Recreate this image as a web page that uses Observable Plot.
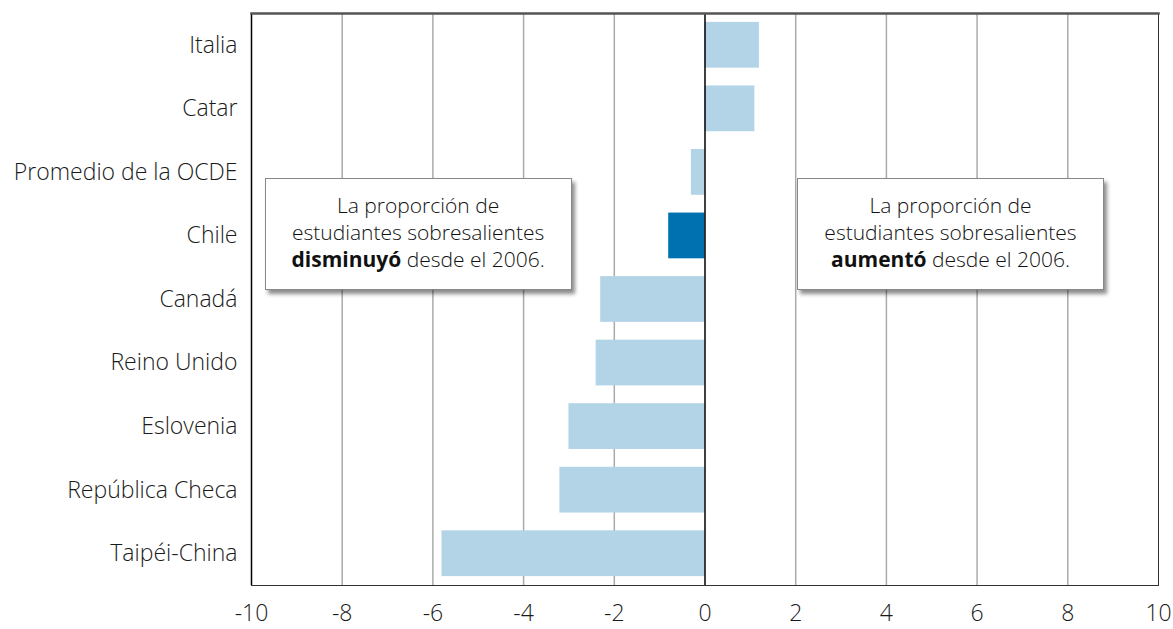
<!DOCTYPE html>
<html><head><meta charset="utf-8">
<script src="https://cdn.jsdelivr.net/npm/d3@7"></script>
<script src="https://cdn.jsdelivr.net/npm/@observablehq/plot@0.6"></script>
<style>
body{margin:0;background:#fff;font-family:"Open Sans",sans-serif;}
#wrap{position:relative;width:1173px;height:629px;}
.note{position:absolute;background:#fff;border:1px solid #888;box-shadow:3px 4px 4px rgba(0,0,0,0.45);
 text-align:center;font-size:21px;line-height:27px;color:#111;box-sizing:border-box;padding-top:13px;font-family:"Open Sans",sans-serif;font-weight:300;}
.note b{font-weight:700;}
svg text{font-weight:300;}
</style></head><body><div id="wrap"></div>
<script>
const countries = ["Italia","Catar","Promedio de la OCDE","Chile","Canadá","Reino Unido","Eslovenia","República Checa","Taipéi-China"];
const values = [1.2, 1.1, -0.3, -0.8, -2.3, -2.4, -3.0, -3.2, -5.8];
const highlight = ["Chile"];
const xTicks = [-10,-8,-6,-4,-2,0,2,4,6,8,10];
const data = countries.map((c,i)=>({country:c,value:values[i]}));

const plot = Plot.plot({
  width:1173, height:629,
  marginTop:13, marginBottom:44, marginLeft:251, marginRight:15,
  style:{fontFamily:"Open Sans, sans-serif", fontSize:"23px", color:"#1a1a1a", background:"#fff"},
  x:{domain:[-10,10], ticks:xTicks, tickSize:0, tickPadding:19, label:null, tickFormat:d=>String(d)},
  y:{domain:countries, paddingInner:0.28, paddingOuter:0.14, round:false, tickSize:0, tickPadding:14, label:null},
  marks:[
    Plot.ruleX(xTicks.filter(d=>d>-10 && d<10 && d!==0), {stroke:"#aaa", strokeWidth:1.5}),
    Plot.barX(data, {y:"country", x:"value", fill:d=>highlight.includes(d.country)?"#0071b0":"#b3d4e7"}),
    Plot.ruleX([0], {stroke:"#000", strokeWidth:1.5}),
    Plot.ruleX([-10], {stroke:"#000", strokeWidth:1.5}),
    Plot.ruleX([10], {stroke:"#333", strokeWidth:1}),
    Plot.frame({anchor:"top", stroke:"#555", strokeWidth:2.5}),
    Plot.frame({anchor:"bottom", stroke:"#333", strokeWidth:1})
  ]
});
const wrap = document.getElementById("wrap");
wrap.appendChild(plot);
const xs = plot.scale("x");
function note(x0,x1,html){
  const d=document.createElement("div");
  d.className="note";
  const l=xs.apply(x0), r=xs.apply(x1);
  d.style.left=l+"px"; d.style.width=(r-l)+"px";
  d.style.top="178px"; d.style.height="112px";
  d.innerHTML=html; wrap.appendChild(d);
}
note(-9.7,-2.93,"La proporción de<br>estudiantes sobresalientes<br><b>disminuyó</b> desde el 2006.");
note(2.03,8.82,"La proporción de<br>estudiantes sobresalientes<br><b>aumentó</b> desde el 2006.");
</script></body></html>
